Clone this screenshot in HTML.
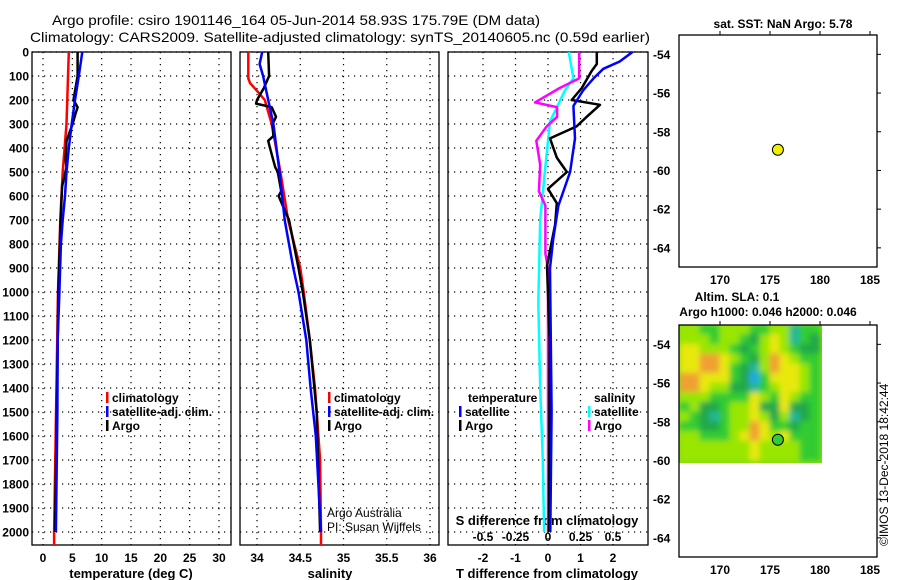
<!DOCTYPE html>
<html><head><meta charset="utf-8"><style>
html,body{margin:0;padding:0;background:#fff;}
svg{display:block;font-family:"Liberation Sans",Arial,sans-serif;}
.b{font-weight:bold;font-size:12px;}
</style></head><body>
<svg id="fig" width="900" height="580" viewBox="0 0 900 580" xmlns="http://www.w3.org/2000/svg">
<defs>
<filter id="blur" x="-10%" y="-10%" width="120%" height="120%"><feGaussianBlur stdDeviation="3"/></filter>
<clipPath id="slaclip"><rect x="679" y="325" width="143" height="138"/></clipPath>
</defs>
<text x="52" y="25" font-size="14" textLength="488" lengthAdjust="spacingAndGlyphs">Argo profile: csiro 1901146_164 05-Jun-2014 58.93S 175.79E (DM data)</text>
<text x="30" y="42" font-size="14" textLength="620" lengthAdjust="spacingAndGlyphs">Climatology: CARS2009. Satellite-adjusted climatology: synTS_20140605.nc (0.59d earlier)</text>
<g id="g"></g>
</svg>
<script>
// ---- profile data (depth in dbar) ----
const tClimDepth=[0,300,500,700,1000,2000,2054];
const tClim=[4.4,4.0,3.35,2.95,2.55,1.9,1.9];
const tSatDepth=[0,100,200,300,400,500,600,700,800,1000,1200,1500,2000];
const tSat=[6.7,6.1,5.45,4.9,4.4,4.0,3.75,3.35,3.05,2.8,2.5,2.45,2.2];
const tArgoDepth=[0,100,200,230,260,300,370,450,480,560,700,1000,1500,2000];
const tArgo=[5.9,5.9,5.2,5.9,5.5,5.05,4.0,3.85,4.0,3.25,3.0,2.6,2.35,2.05];
const sClimDepth=[0,110,130,170,200,300,500,700,900,1000,1200,1400,1700,2000,2054];
const sClim=[33.90,33.90,33.92,34.02,34.09,34.17,34.27,34.36,34.50,34.54,34.61,34.67,34.73,34.74,34.74];
const sSatDepth=[0,50,100,200,300,500,700,900,1000,1200,1400,1600,2000];
const sSat=[34.06,34.03,34.07,34.13,34.19,34.26,34.32,34.42,34.48,34.57,34.62,34.68,34.74];
const sArgoDepth=[0,100,150,200,215,230,270,300,350,370,400,480,500,580,600,700,900,1000,1200,1500,2000];
const sArgo=[34.13,34.14,34.08,34.00,33.99,34.17,34.22,34.18,34.19,34.13,34.15,34.21,34.24,34.28,34.25,34.37,34.48,34.53,34.61,34.69,34.73];
// differences from climatology
const dTSatDepth=[0,40,70,110,160,225,360,500,640,780,900,1500,2000];
const dTSat=[2.6,2.2,1.7,1.4,1.08,0.78,0.83,0.68,0.32,0.16,0.06,0.11,0.07];
const dTArgoDepth=[0,50,80,150,200,220,270,310,360,440,500,570,630,720,890,1200,2000];
const dTArgo=[1.5,1.5,1.34,1.04,0.73,1.6,1.19,0.88,0.06,0.27,0.58,0.0,0.27,0.22,-0.03,0.05,0.03];
const dSArgoDepth=[0,110,150,210,230,270,310,370,470,580,640,840,900,1400,2000];
const dSArgo=[0.24,0.24,0.09,-0.10,0.07,0.07,-0.01,-0.09,-0.06,-0.07,-0.02,-0.02,0.0,0.0,0.0];
const dSSatDepth=[0,110,160,290,500,700,1040,1400,1700,2000];
const dSSat=[0.16,0.195,0.13,0.015,-0.025,-0.06,-0.075,-0.06,-0.04,-0.03];
// ---- axis tick labels ----
const depthTicks=[0,100,200,300,400,500,600,700,800,900,1000,1100,1200,1300,1400,1500,1600,1700,1800,1900,2000];
const tTicks=[0,5,10,15,20,25,30];
const sTicks=[34,34.5,35,35.5,36];
const dTTicks=[-2,-1,0,1,2];
const dSTicks=[-0.5,-0.25,0,0.25,0.5];
const dSTickLabels=["-0.5","-0.25","0","0.25","0.5"];
const latTicks=[-54,-56,-58,-60,-62,-64];
const lonTicks=[170,175,180,185];
// ---- map data ----
const argoLon=175.79, argoLat=-58.93;
const slaLon0=166, slaLat0=-53, slaDLon=1, slaDLat=0.5;
const slaGrid=[
[1,1,0,0,1,1,1,0,0,1,1,-2,0,0],
[1,1,1,0,1,1,0,-1,1,2,1,-2,0,-1],
[2,2,1,1,1,0,-1,0,1,2,1,0,-1,-1],
[2,2,3,3,2,1,0,-1,1,3,2,1,0,0],
[2,2,3,3,2,0,-1,-2,1,3,2,2,1,0],
[3,3,2,2,2,0,-1,-3,0,2,2,2,1,0],
[3,3,2,1,1,-1,-1,-2,0,1,2,2,1,0],
[1,1,1,0,0,0,0,2,1,0,2,1,0,0],
[0,1,-1,-1,0,1,1,2,-1,-1,2,-1,-1,0],
[1,0,-1,-2,0,1,1,2,1,-1,1,-2,-1,0],
[0,0,-1,-1,0,1,1,3,2,0,0,-1,0,0],
[1,1,0,0,0,1,2,3,2,1,2,0,0,0],
[1,1,1,1,1,1,1,2,1,1,1,1,0,0],
[1,1,1,1,1,1,1,2,1,1,1,1,0,0]];

const NS="http://www.w3.org/2000/svg";
const G=document.getElementById('g');
function mk(tag,attrs,parent){const e=document.createElementNS(NS,tag);for(const k in attrs)e.setAttribute(k,attrs[k]);(parent||G).appendChild(e);return e;}
function txt(s,x,y,anchor,cls,parent){const e=mk('text',{x:x,y:y,'text-anchor':anchor||'start'},parent);if(cls)e.setAttribute('class',cls);e.textContent=s;return e;}

const Y0=52, PXD=0.24;
const yD=d=>Y0+d*PXD;
const panels=[
 {x0:32,x1:231,xs:v=>43+v*5.867,name:'temperature'},
 {x0:240,x1:439,xs:v=>257+(v-34)*86.5,name:'salinity'},
 {x0:448,x1:648,xs:v=>548+v*32.5,name:'difference'}];
const yTop=52,yBot=545;

panels.forEach((p,i)=>{
  const grp=mk('g',{});
  
  
  depthTicks.forEach(d=>{
    const l=mk('line',{x1:p.x0,x2:p.x1,y1:yD(d),y2:yD(d),stroke:'#000','stroke-width':1.2,'stroke-dasharray':'1.2,4.8'},grp);
    
    
  });
  p.grp=grp;
});
function vgrid(p,vals,fmt,labY){
  vals.forEach((v,k)=>{
    const x=p.xs(v);
    const l=mk('line',{x1:x,x2:x,y1:yTop,y2:yBot,stroke:'#000','stroke-width':1.2,'stroke-dasharray':'1.2,4.8'},p.grp);
    
    
    const t=txt(fmt(v,k),x,labY,'middle','b',p.grp);
    
    
  });
}
vgrid(panels[0],tTicks,v=>String(v),562);
vgrid(panels[1],sTicks,v=>String(v),562);
vgrid(panels[2],dTTicks,v=>String(v),562);
dSTicks.forEach((v,k)=>{
  const t=txt(dSTickLabels[k],548+v*130,541,'middle','b');
  
  
});
depthTicks.forEach(d=>{
  const t=txt(String(d),29,yD(d)+4.5,'end','b');
  
  
});
panels.forEach(p=>{
  const r=mk('rect',{x:p.x0,y:yTop,width:p.x1-p.x0,height:yBot-yTop,fill:'none',stroke:'#000','stroke-width':1.3});
  
  
});
[['temperature (deg C)',131],['salinity',330],['T difference from climatology',547]].forEach(a=>{
  const t=txt(a[0],a[1],578,'middle','b');t.style.fontSize='13px';
  
  
});
{const t=txt('S difference from climatology',547,525,'middle','b');t.style.fontSize='13px';
 
 }

function line(depths,vals,xs,color,w,name,clipX0,clipX1){
  const pts=depths.map((d,k)=>{let x=xs(vals[k]);x=Math.max(clipX0,Math.min(clipX1,x));return x.toFixed(1)+','+Math.min(yD(d),yBot).toFixed(1);}).join(' ');
  const e=mk('polyline',{points:pts,fill:'none',stroke:color,'stroke-width':w,'stroke-linejoin':'round'});
  
  
}
const P=panels;
line(tClimDepth,tClim,P[0].xs,'#f00',2.5,'temp-climatology-line',P[0].x0,P[0].x1);
line(tArgoDepth,tArgo,P[0].xs,'#000',2.5,'temp-argo-line',P[0].x0,P[0].x1);
line(tSatDepth,tSat,P[0].xs,'#00f',2.5,'temp-satellite-line',P[0].x0,P[0].x1);
line(sClimDepth,sClim,P[1].xs,'#f00',2.5,'sal-climatology-line',P[1].x0,P[1].x1);
line(sArgoDepth,sArgo,P[1].xs,'#000',2.5,'sal-argo-line',P[1].x0,P[1].x1);
line(sSatDepth,sSat,P[1].xs,'#00f',2.5,'sal-satellite-line',P[1].x0,P[1].x1);
const sdx=v=>548+v*130;
line(dSSatDepth,dSSat,sdx,'#0ff',2.5,'sal-diff-satellite-line',P[2].x0,P[2].x1);
line(dSArgoDepth,dSArgo,sdx,'#f0f',2.5,'sal-diff-argo-line',P[2].x0,P[2].x1);
line(dTArgoDepth,dTArgo,P[2].xs,'#000',2.5,'temp-diff-argo-line',P[2].x0,P[2].x1);
line(dTSatDepth,dTSat,P[2].xs,'#00f',2.5,'temp-diff-satellite-line',P[2].x0,P[2].x1);

function leg(x,y,color,label,name){
  const r=mk('rect',{x:x,y:y-10,width:2.5,height:11,fill:color});
  
  
  const t=txt(label,x+6,y,'start','b');
  
  
}
[[106,'p1'],[328,'p2']].forEach(a=>{
  leg(a[0],402,'#f00','climatology','legend-climatology');
  leg(a[0],416,'#00f','satellite-adj. clim.','legend-satellite');
  leg(a[0],430,'#000','Argo','legend-argo');
});
{const t=txt('temperature',468,402,'start','b');}
leg(459,416,'#00f','satellite','legend-temp-satellite');
leg(459,430,'#000','Argo','legend-temp-argo');
{const t=txt('salinity',594,402,'start','b');}
leg(588,416,'#0ff','satellite','legend-sal-satellite');
leg(588,430,'#f0f','Argo','legend-sal-argo');
{const t=txt('Argo Australia',327,517,'start');t.style.fontSize='12px';
 const u=txt('PI: Susan Wijffels',327,531,'start');u.style.fontSize='12px';}

// ---- maps ----
function map(top,name){
  const m={x0:679,x1:877,y0:top,y1:top+232,lon:v=>679+(v-165.9)*10,lat:v=>top+(-53-v)*19.35};
  m.g=mk('g',{});
  
  
  return m;
}
function mapFrame(m){
  const r=mk('rect',{x:m.x0,y:m.y0,width:m.x1-m.x0,height:m.y1-m.y0,fill:'none',stroke:'#000','stroke-width':1.3},m.g);
  
  
  latTicks.forEach(v=>{
    const y=m.lat(v);
    mk('line',{x1:m.x1,x2:m.x1+4,y1:y,y2:y,stroke:'#000'},m.g);
    const t=txt(String(v),653,y+4.5,'start','b',m.g);
    
    
  });
  lonTicks.forEach(v=>{
    const x=m.lon(v);
    mk('line',{x1:x,x2:x,y1:m.y0,y2:m.y0-4,stroke:'#000'},m.g);
    const t=txt(String(v),x,m.y1+17,'middle','b',m.g);
    
    
  });
}
function dot(m,fill){
  const c=mk('circle',{cx:m.lon(argoLon),cy:m.lat(argoLat),r:5.5,fill:fill,stroke:'#000','stroke-width':1},m.g);
  
  
}
const m1=map(35,'sst-map');
mapFrame(m1);dot(m1,'#f0f000');
{const t=txt('sat. SST: NaN Argo: 5.78',783,28,'middle','b');}

const m2=map(325,'sla-map');
const cols={'-3':'#22a8e8','-2':'#22b89a','-1':'#22a84a','0':'#33cc33','1':'#99e600','2':'#e8e810','3':'#f0a030'};
const hclip=mk('g',{'clip-path':'url(#slaclip)'},m2.g);
const hbg=mk('rect',{x:679,y:325,width:143,height:138,fill:'#88dd10'},hclip);
const hg=mk('g',{filter:'url(#blur)'},hclip);
slaGrid.forEach((row,r)=>row.forEach((v,c)=>{
  const x=m2.lon(slaLon0+c*slaDLon), y=m2.lat(slaLat0-r*slaDLat);
  const e=mk('rect',{x:x-0.5,y:y-0.5,width:m2.lon(slaLon0+(c+1)*slaDLon)-x+1,height:m2.lat(slaLat0-(r+1)*slaDLat)-y+1,fill:cols[String(v)]},hg);
  
  
}));
mapFrame(m2);dot(m2,'#33cc33');
{const t=txt('Altim. SLA: 0.1',737,301,'middle','b');
 const u=txt('Argo h1000: 0.046 h2000: 0.046',768,316,'middle','b');}
{const t=txt('©IMOS 13-Dec-2018 18:42:44',0,0,'start');t.style.fontSize='12px';
 t.setAttribute('transform','translate(888,546) rotate(-90)');
 }
</script>
</body></html>
